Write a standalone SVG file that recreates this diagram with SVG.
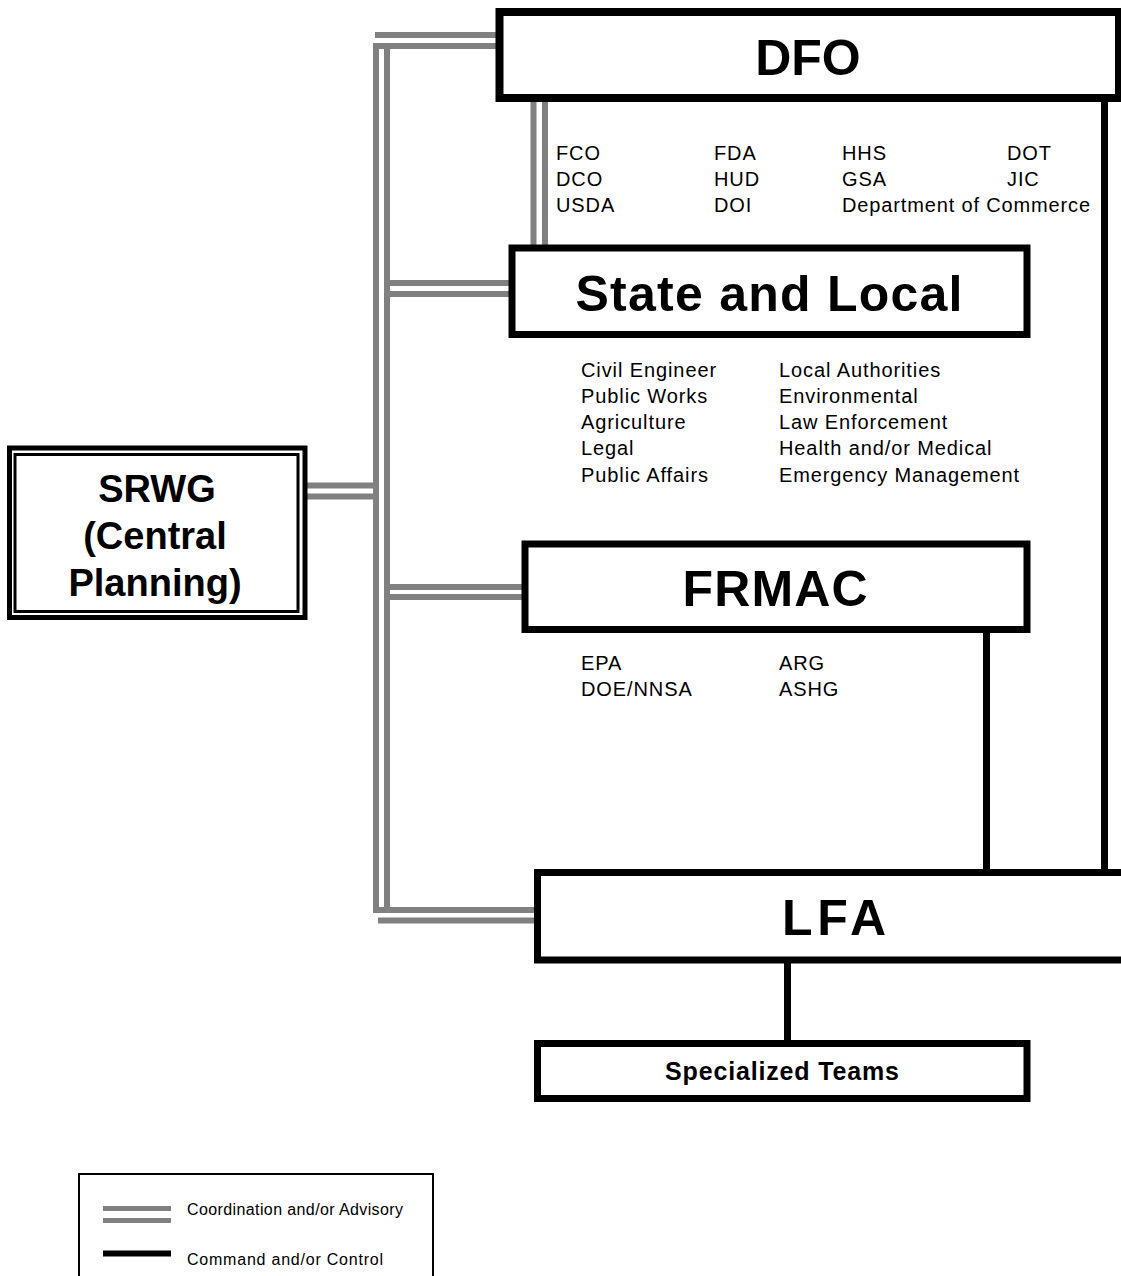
<svg xmlns="http://www.w3.org/2000/svg" width="1121" height="1276" viewBox="0 0 1121 1276">
<style>
.box{fill:#fff;stroke:#000;stroke-width:7}
.g{stroke:#808080;stroke-width:6;fill:none}
.k{stroke:#000;stroke-width:7;fill:none}
.big{font-family:"Liberation Sans",Arial,sans-serif;font-weight:bold;font-size:50px;text-anchor:middle}
.sm{font-family:"Liberation Sans",Arial,sans-serif;font-size:20px;letter-spacing:0.9px}
.lg{font-family:"Liberation Sans",Arial,sans-serif;font-size:16px}
</style>
<rect width="1121" height="1276" fill="#fff"/>
<g id="connectors">
<line class="g" x1="376" y1="43" x2="376" y2="913"/>
<line class="g" x1="387" y1="49" x2="387" y2="907"/>
<line class="g" x1="375" y1="35" x2="500" y2="35"/>
<line class="g" x1="373" y1="46" x2="500" y2="46"/>
<line class="g" x1="390" y1="283" x2="512" y2="283"/>
<line class="g" x1="390" y1="294" x2="512" y2="294"/>
<line class="g" x1="305" y1="485.5" x2="373" y2="485.5"/>
<line class="g" x1="305" y1="496.5" x2="373" y2="496.5"/>
<line class="g" x1="390" y1="587" x2="525" y2="587"/>
<line class="g" x1="390" y1="597" x2="525" y2="597"/>
<line class="g" x1="373" y1="910" x2="537" y2="910"/>
<line class="g" x1="378" y1="920.5" x2="537" y2="920.5"/>
<line class="g" x1="533.5" y1="102" x2="533.5" y2="245"/>
<line class="g" x1="545" y1="102" x2="545" y2="245"/>
<line class="k" x1="1104.5" y1="102" x2="1104.5" y2="870"/>
<line class="k" x1="986.5" y1="632" x2="986.5" y2="870"/>
<line class="k" x1="787.5" y1="962" x2="787.5" y2="1041"/>
</g>
<g id="dfo">
<rect class="box" x="499.5" y="12" width="619.5" height="86" style="stroke-width:8"/>
<text class="big" x="808" y="75">DFO</text>
</g>
<g id="dfo-list" class="sm">
<text x="556" y="160">FCO</text><text x="556" y="186">DCO</text><text x="556" y="212">USDA</text>
<text x="714" y="160">FDA</text><text x="714" y="186">HUD</text><text x="714" y="212">DOI</text>
<text x="842" y="160">HHS</text><text x="842" y="186">GSA</text><text x="842" y="212" textLength="249">Department of Commerce</text>
<text x="1007" y="160">DOT</text><text x="1007" y="186">JIC</text>
</g>
<g id="state">
<rect class="box" x="512" y="248" width="515" height="86.5"/>
<text class="big" x="769" y="311" textLength="387">State and Local</text>
</g>
<g id="state-list" class="sm">
<text x="581" y="377">Civil Engineer</text>
<text x="581" y="403">Public Works</text>
<text x="581" y="429">Agriculture</text>
<text x="581" y="455">Legal</text>
<text x="581" y="482">Public Affairs</text>
<text x="779" y="377">Local Authorities</text>
<text x="779" y="403">Environmental</text>
<text x="779" y="429">Law Enforcement</text>
<text x="779" y="455">Health and/or Medical</text>
<text x="779" y="482" textLength="241">Emergency Management</text>
</g>
<g id="srwg">
<rect x="9.5" y="448" width="295.5" height="169.5" fill="#fff" stroke="#000" stroke-width="5"/>
<rect x="15" y="454.5" width="283" height="157" fill="none" stroke="#000" stroke-width="3"/>
<text class="big" x="157" y="502" style="font-size:38px">SRWG</text>
<text class="big" x="155" y="549" style="font-size:38px">(Central</text>
<text class="big" x="155" y="596" style="font-size:38px">Planning)</text>
</g>
<g id="frmac">
<rect class="box" x="525" y="544" width="502" height="85.5"/>
<text class="big" x="775" y="606" textLength="185">FRMAC</text>
</g>
<g id="frmac-list" class="sm">
<text x="581" y="670">EPA</text><text x="581" y="696">DOE/NNSA</text>
<text x="779" y="670">ARG</text><text x="779" y="696">ASHG</text>
</g>
<g id="lfa">
<rect class="box" x="537.5" y="872.5" width="600" height="87.5"/>
<text class="big" x="834" y="935" textLength="104">LFA</text>
</g>
<g id="teams">
<rect class="box" x="537.5" y="1043.5" width="489.5" height="55"/>
<text class="big" x="782" y="1080" style="font-size:25px" textLength="234">Specialized Teams</text>
</g>
<g id="legend">
<polyline points="79,1276 79,1174 433,1174 433,1276" fill="none" stroke="#000" stroke-width="2"/>
<line x1="103" y1="1208.5" x2="171" y2="1208.5" stroke="#808080" stroke-width="5"/>
<line x1="103" y1="1220.5" x2="171" y2="1220.5" stroke="#808080" stroke-width="5"/>
<line x1="103" y1="1253.5" x2="171" y2="1253.5" stroke="#000" stroke-width="6"/>
<text class="lg" x="187" y="1215" textLength="216">Coordination and/or Advisory</text>
<text class="lg" x="187" y="1265" textLength="196">Command and/or Control</text>
</g>
</svg>
